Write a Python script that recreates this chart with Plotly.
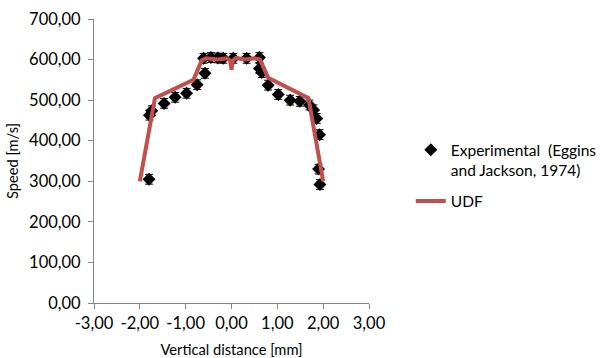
import plotly.graph_objects as go

# Experimental data (Eggins and Jackson, 1974)
exp_x = [-1.80, -1.79, -1.74, -1.47, -1.23, -0.98, -0.75, -0.58,
         -0.61, -0.45, -0.30, -0.18, 0.04, 0.33, 0.61,
         0.61, 0.66, 0.80, 1.02, 1.28, 1.49, 1.70, 1.79, 1.86, 1.92, 1.90, 1.93]
exp_y = [305, 463, 474, 492, 507, 517, 538, 566,
         603, 605, 604, 603, 603, 603, 605,
         578, 568, 537, 514, 500, 497, 488, 476, 455, 415, 330, 292]
exp_err = [12] * len(exp_x)

# UDF simulation
udf_x = [-2.00, -1.67, -0.83, -0.65, -0.55, -0.30, -0.10, -0.03, 0.00, 0.03,
         0.10, 0.30, 0.50, 0.62, 0.80, 1.68, 2.00]
udf_y = [300, 505, 550, 598, 603, 600, 603, 598, 575, 598,
         604, 600, 603, 600, 555, 505, 300]

# Tick labels
x_tickvals = [-3, -2, -1, 0, 1, 2, 3]
x_ticktext = ["-3,00", "-2,00", "-1,00", "0,00", "1,00", "2,00", "3,00"]
y_tickvals = [0, 100, 200, 300, 400, 500, 600, 700]
y_ticktext = ["0,00", "100,00", "200,00", "300,00", "400,00", "500,00", "600,00", "700,00"]

font = "Lato, 'Open Sans', sans-serif"
TICK = 16.5
TITLE = 14.7
LEG = 15.5

fig = go.Figure()
fig.add_trace(go.Scatter(
    x=exp_x, y=exp_y, mode="markers",
    name="Experimental  (Eggins<br>and Jackson, 1974)",
    legendgroup="exp",
    marker=dict(symbol="diamond", size=10, color="black"),
    error_y=dict(type="data", array=exp_err, visible=True, color="black",
                 thickness=1, width=4),
))
fig.add_trace(go.Scatter(
    x=udf_x, y=udf_y, mode="lines", name="UDF",
    legendgroup="udf",
    line=dict(color="#C0504D", width=4),
))

axis_common = dict(
    showline=True, linecolor="#868686", linewidth=1,
    ticks="outside", tickcolor="#868686", ticklen=5,
    showgrid=False, zeroline=False,
    tickfont=dict(family=font, size=TICK, color="#000"),
)
fig.update_xaxes(range=[-3, 3], tickmode="array", tickvals=x_tickvals,
                 ticktext=x_ticktext,
                 title=dict(text="Vertical distance [mm]",
                            font=dict(family=font, size=TITLE, color="#000"),
                            standoff=14),
                 **axis_common)
fig.update_yaxes(range=[0, 700], tickmode="array", tickvals=y_tickvals,
                 ticktext=y_ticktext, ticklabelstandoff=4,
                 title=dict(text="Speed [m/s]",
                            font=dict(family=font, size=TITLE, color="#000"),
                            standoff=6),
                 **axis_common)

fig.update_layout(
    width=600, height=358,
    margin=dict(l=94, r=231, t=19, b=55, autoexpand=False),
    plot_bgcolor="white", paper_bgcolor="white",
    font=dict(family=font, size=TICK, color="#000"),
    showlegend=True,
    legend=dict(x=1.152, y=0.598, xanchor="left", yanchor="top",
                valign="top", bgcolor="rgba(0,0,0,0)", tracegroupgap=8,
                font=dict(family=font, size=LEG, color="#000")),
)

fig.write_html("out.html")
